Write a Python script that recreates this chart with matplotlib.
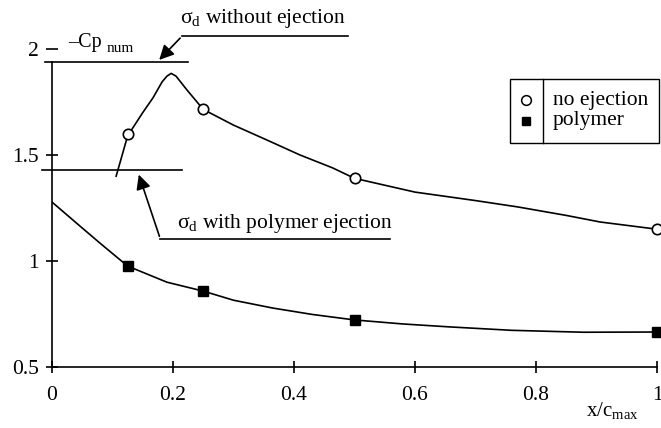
import numpy as np
import matplotlib
matplotlib.use("Agg")
import matplotlib.pyplot as plt

plt.rcParams['font.family'] = ['Liberation Serif', 'DejaVu Serif']
plt.rcParams['mathtext.fontset'] = 'custom'
plt.rcParams['mathtext.rm'] = 'Liberation Serif'

# measured points
x_pts = [0.125, 0.25, 0.5, 1.0]
no_ejection = [1.60, 1.715, 1.39, 1.15]
polymer = [0.976, 0.858, 0.722, 0.665]

# fitted curves
x_curve_no = [0.106, 0.125, 0.15, 0.167, 0.182, 0.190, 0.197, 0.205, 0.223, 0.25, 0.30, 0.355, 0.41, 0.464, 0.5, 0.60, 0.70, 0.77, 0.85, 0.906, 1.0]
y_curve_no = [1.40, 1.59, 1.70, 1.77, 1.845, 1.872, 1.885, 1.872, 1.807, 1.715, 1.641, 1.571, 1.50, 1.439, 1.39, 1.325, 1.285, 1.255, 1.215, 1.184, 1.15]
x_curve_pol = [0.0, 0.04, 0.079, 0.125, 0.19, 0.25, 0.30, 0.365, 0.43, 0.5, 0.58, 0.658, 0.76, 0.878, 1.0]
y_curve_pol = [1.278, 1.18, 1.085, 0.976, 0.90, 0.858, 0.815, 0.778, 0.748, 0.722, 0.703, 0.689, 0.673, 0.664, 0.665]

cp_no = 1.94
cp_pol = 1.43

fig = plt.figure(figsize=(6.61, 4.28), dpi=100)
ax = fig.add_axes([52 / 661, 61 / 428, 605 / 661, 318 / 428])
ax.set_xlim(0, 1)
ax.set_ylim(0.5, 2)

ax.plot(x_curve_no, y_curve_no, color='black', lw=1.2)
ax.plot(x_curve_pol, y_curve_pol, color='black', lw=1.2)
ax.plot(x_pts, no_ejection, 'o', mfc='white', mec='black', ms=7.5, mew=1.2, clip_on=False)
ax.plot(x_pts, polymer, 's', color='black', ms=7, clip_on=False)

# numerical -Cp levels
ax.plot([-0.012, 0.225], [cp_no, cp_no], color='black', lw=1.2, clip_on=False)
ax.plot([-0.017, 0.215], [cp_pol, cp_pol], color='black', lw=1.2, clip_on=False)

ax.text(0.026, 2.03, '–Cp', fontsize=14.5, ha='left', va='center')
ax.text(0.090, 2.0, 'num', fontsize=11, ha='left', va='center')

# annotations
ax.annotate('', xy=(0.174, 1.939), xytext=(0.215, 2.061),
            arrowprops=dict(arrowstyle='-|>', color='black', lw=1.2, mutation_scale=22),
            annotation_clip=False)
ax.plot([0.215, 0.489], [2.061, 2.061], color='black', lw=1.2, clip_on=False)
ax.text(0.212, 2.146, 'σ$_{\\mathrm{d}}$ without ejection', fontsize=15.5, ha='left', va='center')

ax.annotate('', xy=(0.142, 1.42), xytext=(0.179, 1.104),
            arrowprops=dict(arrowstyle='-|>', color='black', lw=1.2, mutation_scale=22),
            annotation_clip=False)
ax.plot([0.179, 0.559], [1.104, 1.104], color='black', lw=1.2, clip_on=False)
ax.text(0.207, 1.179, 'σ$_{\\mathrm{d}}$ with polymer ejection', fontsize=15.5, ha='left', va='center')

ax.spines['top'].set_visible(False)
ax.spines['right'].set_visible(False)
ax.spines['left'].set_bounds(0.5, cp_no)
for s in ['left', 'bottom']:
    ax.spines[s].set_linewidth(1.2)

ax.set_xticks([0, 0.2, 0.4, 0.6, 0.8, 1.0])
ax.set_xticklabels(['0', '0.2', '0.4', '0.6', '0.8', '1'])
ax.set_yticks([0.5, 1, 1.5, 2])
ax.set_yticklabels(['0.5', '1', '1.5', '2'])
ax.tick_params(axis='x', direction='inout', length=9, width=1.2, labelsize=15.5, pad=9)
ax.tick_params(axis='y', direction='inout', length=9, width=1.2, labelsize=15.5, pad=5)

fig.text(586 / 661, 1 - 411 / 428, r'x/c$_{\mathrm{max}}$', fontsize=15, ha='left', va='center')

# legend box with divider
fx = lambda px: px / 661
fy = lambda py: 1 - py / 428
fig.add_artist(plt.Rectangle((fx(510), fy(143)), fx(659) - fx(510), fy(79) - fy(143),
                             transform=fig.transFigure, fill=False, ec='black', lw=1.0))
fig.add_artist(plt.Line2D([fx(543), fx(543)], [fy(143), fy(79)], transform=fig.transFigure,
                          color='black', lw=1.0))
fig.add_artist(plt.Line2D([fx(526)], [fy(100)], transform=fig.transFigure, marker='o',
                          mfc='white', mec='black', ms=7, mew=1.1, ls='none'))
fig.add_artist(plt.Line2D([fx(526)], [fy(121)], transform=fig.transFigure, marker='s',
                          color='black', ms=6, ls='none'))
fig.text(fx(553), fy(100), 'no ejection', fontsize=15.5, ha='left', va='center')
fig.text(fx(553), fy(121), 'polymer', fontsize=15.5, ha='left', va='center')

fig.savefig('out.png', dpi=100)
